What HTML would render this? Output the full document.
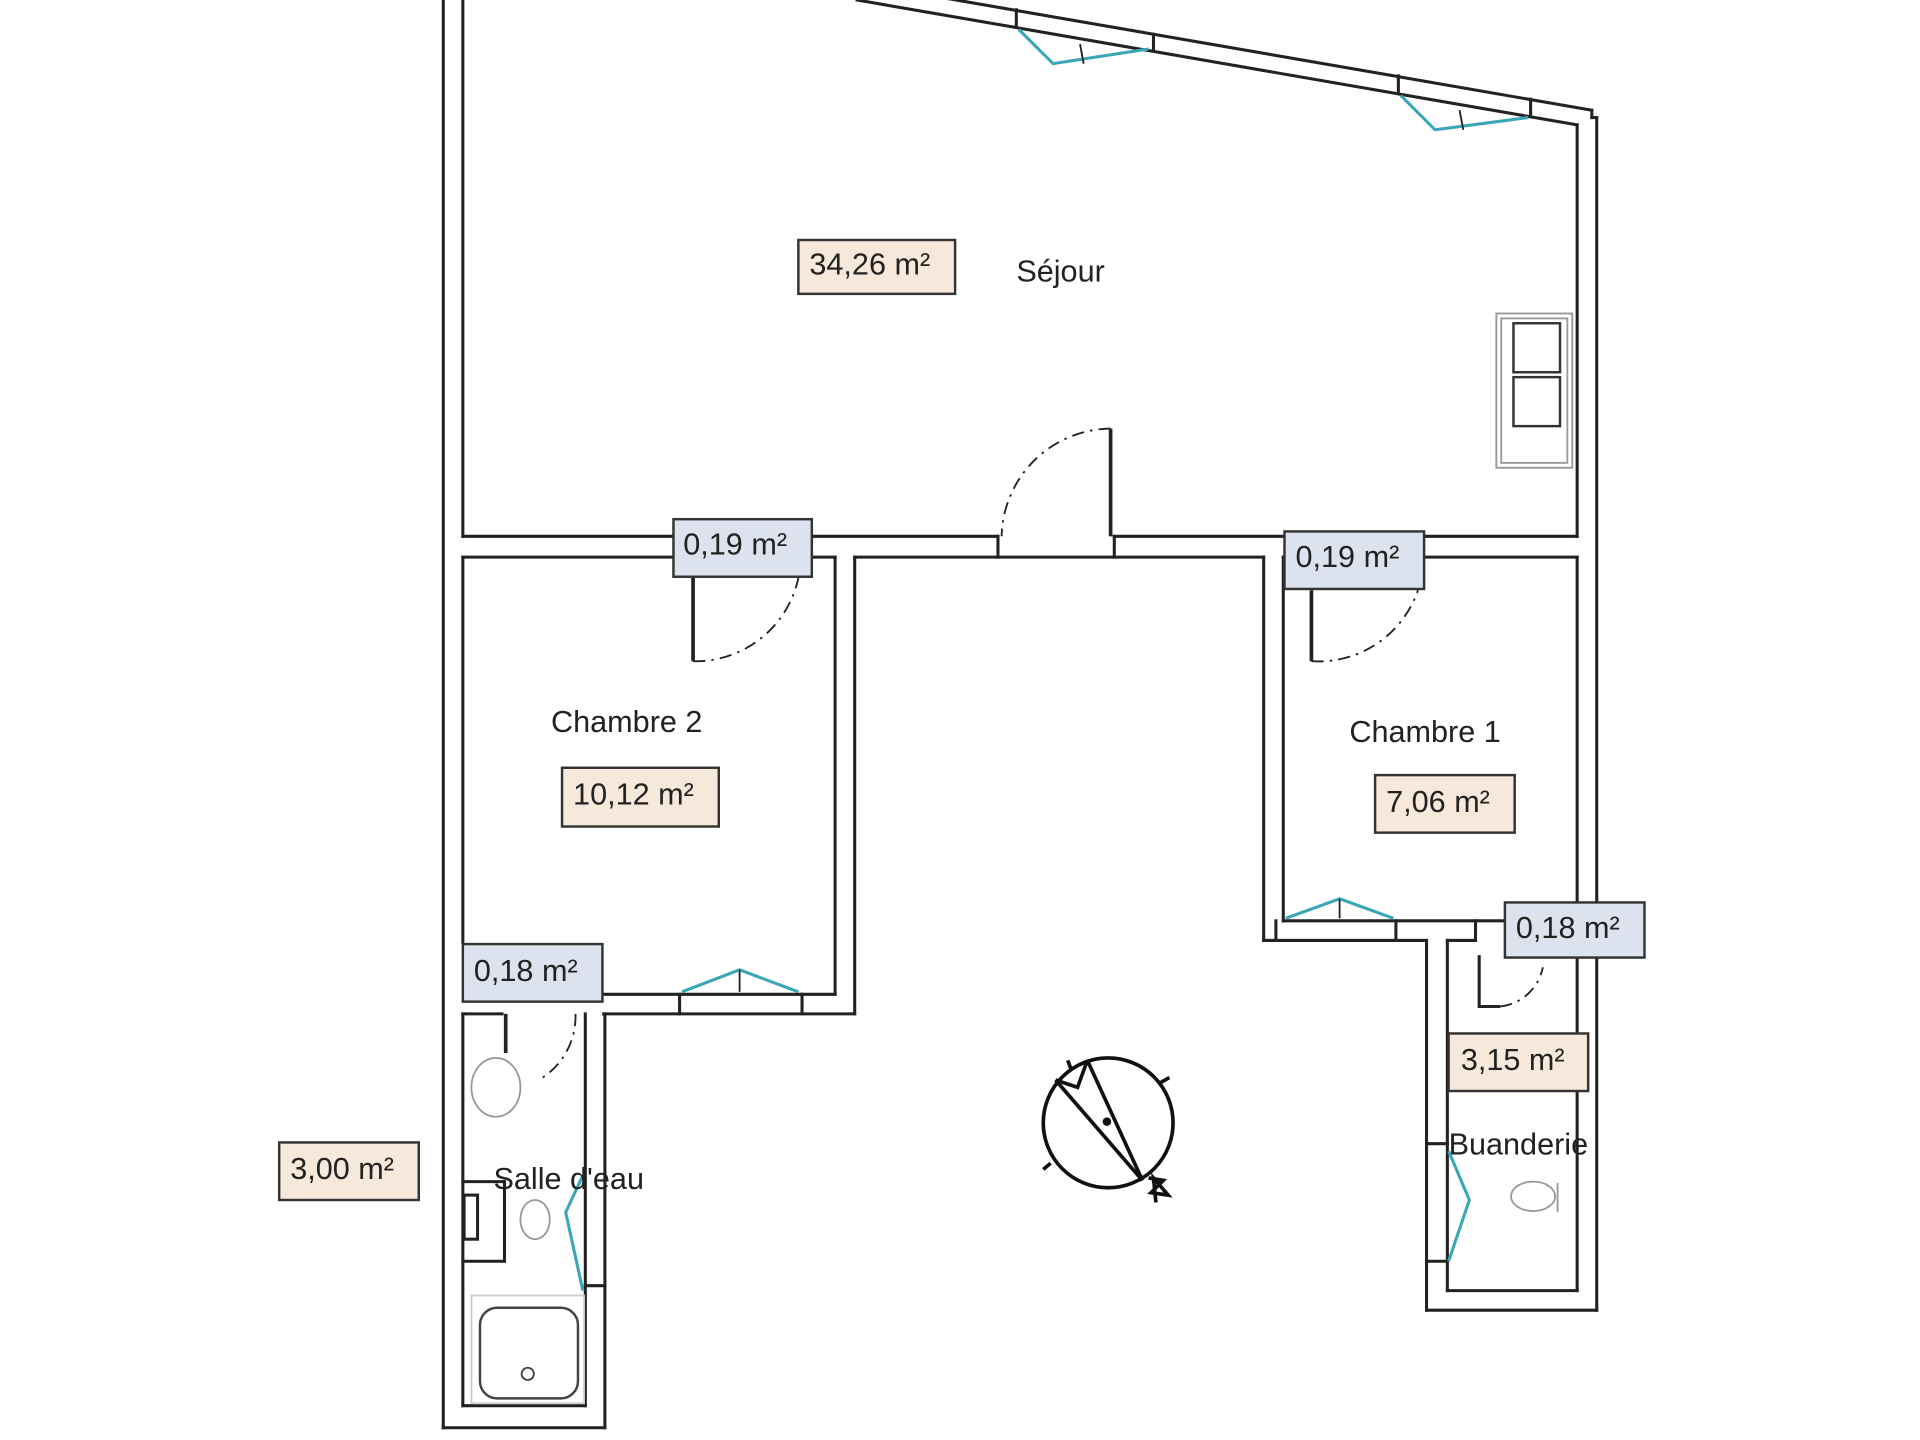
<!DOCTYPE html>
<html><head><meta charset="utf-8"><style>
html,body{margin:0;padding:0;background:#fff;}
svg{display:block;}
text{font-family:"Liberation Sans",sans-serif;fill:#222;}
</style></head><body>
<svg width="1920" height="1440" viewBox="0 0 1568 1176" xmlns="http://www.w3.org/2000/svg">
<g stroke="#222" stroke-width="2.5" fill="none" stroke-linecap="square">
<line x1="362" y1="0" x2="362" y2="1166"/>
<line x1="378" y1="0" x2="378" y2="438"/>
<line x1="700" y1="-14" x2="1300" y2="90"/>
<line x1="700" y1="0" x2="1288" y2="102"/>
<line x1="1300" y1="90" x2="1300" y2="96"/><line x1="1300" y1="96" x2="1304" y2="96"/>
<line x1="830" y1="8" x2="830" y2="22"/><line x1="942" y1="28" x2="942" y2="41"/>
<line x1="1142" y1="62" x2="1142" y2="76"/><line x1="1250" y1="81" x2="1250" y2="95"/>
<line x1="1304" y1="96" x2="1304" y2="1070"/>
<line x1="1288" y1="102" x2="1288" y2="438"/>
<line x1="378" y1="438" x2="815" y2="438"/>
<line x1="910" y1="438" x2="1288" y2="438"/>
<line x1="815" y1="438" x2="815" y2="455"/><line x1="910" y1="438" x2="910" y2="455"/>
<line x1="378" y1="455" x2="682" y2="455"/>
<line x1="698" y1="455" x2="1032" y2="455"/>
<line x1="1048" y1="455" x2="1288" y2="455"/>
<line x1="378" y1="455" x2="378" y2="770"/>
<line x1="682" y1="455" x2="682" y2="812"/>
<line x1="698" y1="455" x2="698" y2="828"/>
<line x1="493" y1="812" x2="682" y2="812"/>
<line x1="493" y1="828" x2="698" y2="828"/>
<line x1="555" y1="812" x2="555" y2="828"/><line x1="655" y1="812" x2="655" y2="828"/>
<line x1="378" y1="828" x2="378" y2="1148"/>
<line x1="378" y1="828" x2="410" y2="828"/>
<line x1="478" y1="828" x2="478" y2="1148"/>
<line x1="494" y1="828" x2="494" y2="1166"/>
<line x1="378" y1="1148" x2="478" y2="1148"/>
<line x1="362" y1="1166" x2="494" y2="1166"/>
<line x1="378" y1="965" x2="412" y2="965"/><line x1="412" y1="965" x2="412" y2="1030"/><line x1="378" y1="1030" x2="412" y2="1030"/>
<rect x="379" y="976" width="11" height="36"/>
<line x1="478" y1="1050" x2="494" y2="1050"/>
<line x1="1032" y1="455" x2="1032" y2="768"/>
<line x1="1048" y1="455" x2="1048" y2="752"/>
<line x1="1288" y1="455" x2="1288" y2="752"/>
<line x1="1048" y1="752" x2="1228" y2="752"/>
<line x1="1032" y1="768" x2="1165" y2="768"/>
<line x1="1182" y1="768" x2="1205" y2="768"/>
<line x1="1042" y1="752" x2="1042" y2="768"/><line x1="1140" y1="752" x2="1140" y2="768"/>
<line x1="1205" y1="752" x2="1205" y2="768"/>
<line x1="1165" y1="768" x2="1165" y2="1070"/>
<line x1="1182" y1="768" x2="1182" y2="1054"/>
<line x1="1288" y1="768" x2="1288" y2="1054"/>
<line x1="1182" y1="1054" x2="1288" y2="1054"/>
<line x1="1165" y1="1070" x2="1304" y2="1070"/>
<line x1="1165" y1="934" x2="1182" y2="934"/><line x1="1165" y1="1030" x2="1182" y2="1030"/>
</g>
<g stroke="#3aa7b8" stroke-width="2.5" fill="none">
<polyline points="832,24 860,52 938,40"/>
<polyline points="1144,78 1172,106 1248,96"/>
<polyline points="557,810 604,792 652,810"/>
<polyline points="1050,750 1094,734 1138,750"/>
<polyline points="476,960 462,990 476,1054"/>
<polyline points="1183,940 1200,980 1183,1030"/>
</g>
<g stroke="#222" stroke-width="1.5" fill="none">
<polyline points="882,36 885,52"/><polyline points="1192,90 1195,106"/>
<line x1="604" y1="792" x2="604" y2="810"/><line x1="1094" y1="734" x2="1094" y2="750"/>
</g>
<g stroke="#222" fill="none">
<line x1="907" y1="350" x2="907" y2="438" stroke-width="3"/>
<path d="M907 350 A90 90 0 0 0 818 438" stroke-width="1.5" stroke-dasharray="10 5 2 5"/>
<line x1="566" y1="472" x2="566" y2="540" stroke-width="3"/>
<path d="M566 540 A86 86 0 0 0 652 472" stroke-width="1.5" stroke-dasharray="10 5 2 5"/>
<line x1="1071" y1="482" x2="1071" y2="540" stroke-width="3"/>
<path d="M1071 540 A86 86 0 0 0 1158 482" stroke-width="1.5" stroke-dasharray="10 5 2 5"/>
<line x1="413" y1="828" x2="413" y2="860" stroke-width="3"/>
<path d="M470 828 A60 60 0 0 1 440 882" stroke-width="1.5" stroke-dasharray="10 5 2 5"/>
<polyline points="1208,780 1208,822 1225,822" stroke-width="2.5"/>
<path d="M1225 822 A40 40 0 0 0 1260 790" stroke-width="1.5" stroke-dasharray="10 5 2 5"/>
</g>
<g stroke="#999" stroke-width="1.5" fill="none">
<rect x="1222" y="256" width="62" height="126"/>
<rect x="1226" y="260" width="54" height="118"/>
<rect x="1236" y="264" width="38" height="40" stroke="#333" stroke-width="2"/>
<rect x="1236" y="308" width="38" height="40" stroke="#333" stroke-width="2"/>
<ellipse cx="405" cy="888" rx="20" ry="24"/>
<ellipse cx="437" cy="996" rx="12" ry="16"/>
<rect x="385" y="1058" width="92" height="88" stroke="#ccc"/>
<rect x="392" y="1068" width="80" height="74" rx="14" stroke="#444" stroke-width="2"/>
<circle cx="431" cy="1122" r="5" stroke="#444"/>
<ellipse cx="1252" cy="977" rx="18" ry="12"/>
<line x1="1272" y1="966" x2="1272" y2="990"/>
</g>
<g stroke="#111" stroke-width="3" fill="none">
<ellipse cx="905" cy="917" rx="53" ry="53"/>
<line x1="862" y1="882" x2="933" y2="964"/>
<line x1="888" y1="866" x2="933" y2="964"/>
<polyline points="862,882 880,888 888,866"/>
<line x1="872" y1="866" x2="875" y2="874"/>
<line x1="948" y1="884" x2="955" y2="880"/>
<line x1="858" y1="950" x2="852" y2="955"/>
<polyline points="938,962 950,964 940,974 954,976 942,962 944,982" stroke-width="3"/>
</g>
<circle cx="904" cy="916" r="3.5" fill="#111"/>
<g font-size="25">
<rect x="652" y="196" width="128" height="44" fill="#f7e8dc" stroke="#333" stroke-width="2"/>
<text x="661" y="224">34,26 m²</text>
<text x="830" y="230">Séjour</text>
<rect x="550" y="424" width="113" height="47" fill="#dde3ee" stroke="#333" stroke-width="2"/>
<text x="558" y="453">0,19 m²</text>
<rect x="1049" y="434" width="114" height="47" fill="#dde3ee" stroke="#333" stroke-width="2"/>
<text x="1058" y="463">0,19 m²</text>
<text x="450" y="598">Chambre 2</text>
<rect x="459" y="627" width="128" height="48" fill="#f7e8dc" stroke="#333" stroke-width="2"/>
<text x="468" y="657">10,12 m²</text>
<text x="1102" y="606">Chambre 1</text>
<rect x="1123" y="633" width="114" height="47" fill="#f7e8dc" stroke="#333" stroke-width="2"/>
<text x="1132" y="663">7,06 m²</text>
<rect x="378" y="771" width="114" height="47" fill="#dde3ee" stroke="#333" stroke-width="2"/>
<text x="387" y="801">0,18 m²</text>
<rect x="1229" y="737" width="114" height="45" fill="#dde3ee" stroke="#333" stroke-width="2"/>
<text x="1238" y="766">0,18 m²</text>
<rect x="1183" y="844" width="114" height="47" fill="#f7e8dc" stroke="#333" stroke-width="2"/>
<text x="1193" y="874">3,15 m²</text>
<text x="1183" y="943">Buanderie</text>
<rect x="228" y="933" width="114" height="47" fill="#f7e8dc" stroke="#333" stroke-width="2"/>
<text x="237" y="963">3,00 m²</text>
<text x="403" y="971">Salle d'eau</text>
</g>
</svg>
</body></html>
